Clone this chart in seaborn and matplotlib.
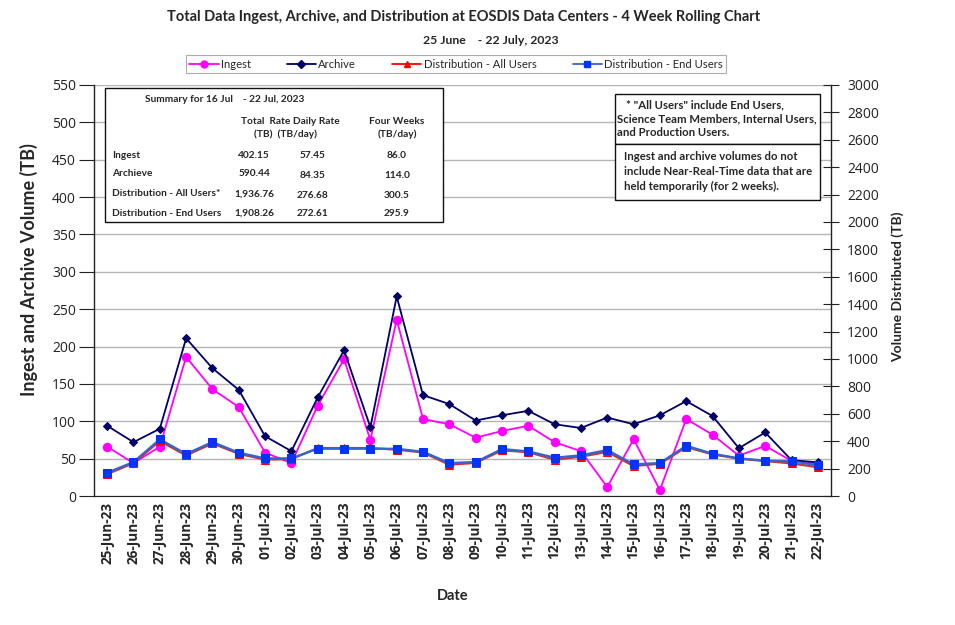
import matplotlib
matplotlib.use("Agg")
import matplotlib.pyplot as plt
import seaborn as sns
import pandas as pd
from matplotlib.lines import Line2D

dates = ["25-Jun-23", "26-Jun-23", "27-Jun-23", "28-Jun-23", "29-Jun-23", "30-Jun-23",
         "01-Jul-23", "02-Jul-23", "03-Jul-23", "04-Jul-23", "05-Jul-23", "06-Jul-23",
         "07-Jul-23", "08-Jul-23", "09-Jul-23", "10-Jul-23", "11-Jul-23", "12-Jul-23",
         "13-Jul-23", "14-Jul-23", "15-Jul-23", "16-Jul-23", "17-Jul-23", "18-Jul-23",
         "19-Jul-23", "20-Jul-23", "21-Jul-23", "22-Jul-23"]

ingest = [66, 44, 66, 186, 143, 119, 58, 44, 121, 183, 75, 236, 103, 96,
          78, 87, 94, 72, 60, 12, 76, 8, 103, 82, 54, 67, 47, 43]
archive = [94, 72, 90, 211, 171, 142, 80, 60, 132, 195, 92, 267, 135, 123,
           101, 108, 114, 96, 91, 105, 96, 108, 127, 107, 64, 85, 48, 45]
dist_all = [160, 240, 402, 296, 384, 308, 265, 270, 350, 350, 350, 338, 318, 228,
            242, 333, 320, 265, 287, 322, 219, 235, 357, 304, 272, 255, 238, 210]
dist_end = [170, 248, 414, 307, 394, 316, 275, 275, 345, 345, 345, 345, 323, 241,
            248, 343, 326, 280, 297, 336, 231, 241, 367, 309, 275, 258, 253, 224]

left_ticks = list(range(0, 551, 50))
right_ticks = list(range(0, 3001, 200))

df = pd.DataFrame({"Date": dates, "Ingest": ingest, "Archive": archive,
                   "DistAll": dist_all, "DistEnd": dist_end})

W, H = 955, 625
fig = plt.figure(figsize=(W / 100, H / 100), dpi=100)
sns.set_style("white")
plt.rcParams["font.family"] = ["Open Sans", "DejaVu Sans"]

def fx(x):
    return x / W

def fy(y):
    return 1 - y / H

ax = fig.add_axes([fx(94), fy(496), fx(831) - fx(94), fy(85) - fy(496)])
ax2 = ax.twinx()

MAG = "#ff00ff"
NAVY = "#000066"
RED = "#ff0000"
BLUE_L = "#3366cc"
BLUE_M = "#0033ff"

sns.lineplot(data=df, x="Date", y="Ingest", ax=ax, sort=False, color=MAG, lw=1.3,
             marker="o", markersize=6, markeredgecolor=MAG, markerfacecolor=MAG, zorder=4)
sns.lineplot(data=df, x="Date", y="Archive", ax=ax, sort=False, color=NAVY, lw=1.3,
             marker="D", markersize=4.5, markeredgecolor=NAVY, markerfacecolor=NAVY, zorder=4)
sns.lineplot(data=df, x="Date", y="DistAll", ax=ax2, sort=False, color="#cc3333", lw=1.6,
             marker="^", markersize=5.5, markeredgecolor=RED, markerfacecolor=RED, zorder=3)
sns.lineplot(data=df, x="Date", y="DistEnd", ax=ax2, sort=False, color=BLUE_L, lw=1.6,
             marker="s", markersize=5.5, markeredgecolor=BLUE_M, markerfacecolor=BLUE_M, zorder=4)

ax.set_ylim(0, 550)
ax2.set_ylim(0, 3000)
ax.set_xlim(-0.5, len(dates) - 0.5)
ax.set_yticks(left_ticks)
ax2.set_yticks(right_ticks)
ax.set_xticks(range(len(dates)))
ax.set_xticklabels(dates, rotation=90, fontsize=9.8, fontweight="bold")
ax.set_xticks([i - 0.5 for i in range(len(dates) + 1)], minor=True)
ax.tick_params(axis="x", which="major", length=0, pad=4)
ax.tick_params(axis="x", which="minor", length=5, direction="out", width=0.8)
ax.tick_params(axis="y", labelsize=10, length=11, direction="out", width=0.8, colors="#222222", pad=2)
ax2.tick_params(axis="y", labelsize=10, length=11, direction="inout", width=0.8, colors="#222222", pad=6)
ax.grid(axis="y", color="#b5b5b5", lw=1.0)
ax.set_axisbelow(True)
ax2.grid(False)
for a in (ax, ax2):
    for s in a.spines.values():
        s.set_visible(False)
ax.spines["left"].set_visible(True)
ax.spines["bottom"].set_visible(True)
ax2.spines["right"].set_visible(True)
ax.spines["left"].set_color("#222222")
ax.spines["bottom"].set_color("#222222")
ax2.spines["right"].set_color("#222222")
ax.spines["left"].set_linewidth(1.0)
ax2.spines["right"].set_linewidth(1.0)

ax.set_xlabel("")
ax.set_ylabel("")
ax2.set_ylabel("")

fig.text(fx(29), fy(270), "Ingest and Archive Volume (TB)", rotation=90, ha="center", va="center",
         fontsize=13, fontweight="bold", family="Lato")
fig.text(fx(898), fy(287), "Volume Distributed (TB)", rotation=90, ha="center", va="center",
         fontsize=10, fontweight="bold", family="Lato")
fig.text(fx(453), fy(596), "Date", ha="center", va="center", fontsize=10.5, fontweight="bold", family="Lato")

fig.text(fx(464), fy(17), "Total Data Ingest, Archive, and Distribution at EOSDIS Data Centers - 4 Week Rolling Chart",
         ha="center", va="center", fontsize=10.5, fontweight="bold", family="Lato")
fig.text(fx(491), fy(41), "25 June    - 22 July, 2023", ha="center", va="center",
         fontsize=8.8, fontweight="bold", family="Lato")

handles = [
    Line2D([], [], color=MAG, lw=1.3, marker="o", markersize=5, markeredgecolor=MAG),
    Line2D([], [], color=NAVY, lw=1.3, marker="D", markersize=4, markeredgecolor=NAVY),
    Line2D([], [], color=RED, lw=1.3, marker="^", markersize=5, markeredgecolor=RED),
    Line2D([], [], color=BLUE_L, lw=1.3, marker="s", markersize=5, markeredgecolor=BLUE_M, markerfacecolor=BLUE_M),
]
labels = ["Ingest", "Archive", "Distribution - All Users", "Distribution - End Users"]
leg = fig.legend(handles, labels, loc="center", bbox_to_anchor=(fx(456), fy(64)), ncol=4,
                 frameon=True, fancybox=False, edgecolor="#999999",
                 prop={"family": "Lato", "size": 8.1}, handlelength=2.6, handletextpad=0.2,
                 columnspacing=3.2, borderpad=0.3, borderaxespad=0, handleheight=0.7)
leg.get_frame().set_linewidth(0.8)

def hline(y, x0, x1, lw=1.0):
    fig.add_artist(Line2D([fx(x0), fx(x1)], [fy(y), fy(y)], color="#111111", lw=lw))

def vline(x, y0, y1, lw=1.0):
    fig.add_artist(Line2D([fx(x), fx(x)], [fy(y0), fy(y1)], color="#111111", lw=lw))

# summary table
fig.patches.append(plt.Rectangle((fx(105), fy(222)), fx(443) - fx(105), fy(88) - fy(222),
                                 transform=fig.transFigure, facecolor="white", edgecolor="#111111",
                                 lw=1.0, zorder=5))
for y in (116, 148, 166, 185, 203):
    hline(y, 105, 443)
vline(226, 116, 222)
vline(294, 116, 150)
vline(358, 88, 116)

tkw = dict(fontsize=7.3, fontweight="bold", family="Lato", va="center", zorder=6)
fig.text(fx(225), fy(100), "Summary for 16 Jul    - 22 Jul, 2023", ha="center", **tkw)
fig.text(fx(241), fy(122), "Total  Rate Daily Rate", ha="left", **tkw)
fig.text(fx(254), fy(134), "(TB)  (TB/day)", ha="left", **tkw)
fig.text(fx(397), fy(122), "Four Weeks", ha="center", **tkw)
fig.text(fx(397), fy(134), "(TB/day)", ha="center", **tkw)

row_labels = ["Ingest", "Archieve", "Distribution - All Users*", "Distribution - End Users"]
col_total = ["402.15", "590.44", "1,936.76", "1,908.26"]
col_daily = ["57.45", "84.35", "276.68", "272.61"]
col_four = ["86.0", "114.0", "300.5", "295.9"]
row_y = [155, 174, 194, 213]
for i, yy in enumerate(row_y):
    fig.text(fx(112), fy(yy), row_labels[i], ha="left", **tkw)
    fig.text(fx(254), fy(yy), col_total[i], ha="center", **tkw)
    fig.text(fx(313), fy(yy + 1), col_daily[i], ha="center", **tkw)
    fig.text(fx(397), fy(yy + 1), col_four[i], ha="center", **tkw)

# note boxes
for (y0, y1) in ((94, 144), (144, 200)):
    fig.patches.append(plt.Rectangle((fx(615), fy(y1)), fx(820) - fx(615), fy(y0) - fy(y1),
                                     transform=fig.transFigure, facecolor="white", edgecolor="#111111",
                                     lw=1.0, zorder=5))
nkw = dict(fontsize=8.2, fontweight="bold", family="Lato", va="center", ha="left", zorder=6)
fig.text(fx(626), fy(105), "* \"All Users\" include End Users,", **nkw)
fig.text(fx(617), fy(119), "Science Team Members, Internal Users,", **nkw)
fig.text(fx(617), fy(133), "and Production Users.", **nkw)
fig.text(fx(624), fy(156), "Ingest and archive volumes do not", **nkw)
fig.text(fx(624), fy(171), "include Near-Real-Time data that are", **nkw)
fig.text(fx(624), fy(186), "held temporarily (for 2 weeks).", **nkw)

fig.savefig("out.png", dpi=100, facecolor="white")
